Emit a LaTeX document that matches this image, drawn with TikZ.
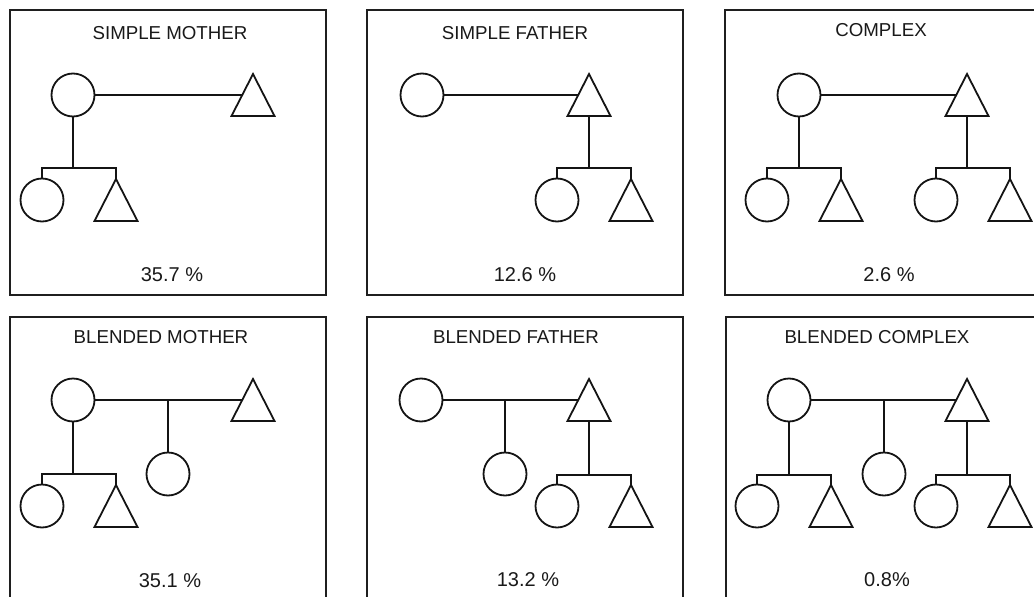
\documentclass[tikz,border=0pt]{standalone}
\usepackage{fontspec}
\setmainfont{Liberation Sans}
\usetikzlibrary{calc}
\tikzset{
  shp/.style={line width=1.8pt, draw=black!92},
  circ/.style={circle, draw=black!92, line width=1.8pt, minimum size=43pt, inner sep=0pt},
  panel/.style={draw=black!88, line width=2.8pt},
  ttl/.style={font=\fontsize{18.7}{22}\selectfont, text=black!90, inner sep=0pt},
  pct/.style={font=\fontsize{20}{24}\selectfont, text=black!90, inner sep=0pt},
}
\newcommand\tri[2]{%
  \coordinate (#1) at (#2);
  \draw[shp] (#1) -- ++(-21.5,42) -- ++(43,0) -- cycle;
  \coordinate (#1L) at ($(#1)+(-10.5,21)$);
  \coordinate (#1B) at ($(#1)+(0,42)$);
}
\begin{document}
\begin{tikzpicture}[x=1pt,y=-1pt]
\useasboundingbox (0,0) rectangle (1034,597);
\clip (0,0) rectangle (1034,597);
% ---------- Panel 1: SIMPLE MOTHER
\draw[panel] (10,10) rectangle (326,295);
\node[ttl] (t1) at (170,33) {SIMPLE MOTHER};
\node[circ] (m1) at (73,95) {};
\tri{f1}{253,74}
\draw[shp] (m1.east) -- (f1L);
\coordinate (b1) at (73,168);
\node[circ] (d1) at (42,200) {};
\tri{s1}{116,179}
\draw[shp] (m1.south) -- (m1.south |- b1);
\draw[shp] (d1.north) -- (d1.north |- b1) -- (s1 |- b1) -- (s1);
\node[pct] (p1) at (172,275) {35.7 \%};
% ---------- Panel 2: SIMPLE FATHER
\draw[panel] (367,10) rectangle (683,295);
\node[ttl] (t2) at (515,33) {SIMPLE FATHER};
\node[circ] (m2) at (422,95) {};
\tri{f2}{589,74}
\draw[shp] (m2.east) -- (f2L);
\coordinate (b2) at (589,168);
\node[circ] (d2) at (557,200) {};
\tri{s2}{631,179}
\draw[shp] (f2B) -- (f2B |- b2);
\draw[shp] (d2.north) -- (d2.north |- b2) -- (s2 |- b2) -- (s2);
\node[pct] (p2) at (525,275) {12.6 \%};
% ---------- Panel 3: COMPLEX
\draw[panel] (725,10) rectangle (1060,295);
\node[ttl] (t3) at (881,30) {COMPLEX};
\node[circ] (m3) at (799,95) {};
\tri{f3}{967,74}
\draw[shp] (m3.east) -- (f3L);
\coordinate (b3) at (799,168);
\node[circ] (d3a) at (767,200) {};
\tri{s3a}{841,179}
\node[circ] (d3b) at (936,200) {};
\tri{s3b}{1010,179}
\draw[shp] (m3.south) -- (m3.south |- b3);
\draw[shp] (d3a.north) -- (d3a.north |- b3) -- (s3a |- b3) -- (s3a);
\draw[shp] (f3B) -- (f3B |- b3);
\draw[shp] (d3b.north) -- (d3b.north |- b3) -- (s3b |- b3) -- (s3b);
\node[pct] (p3) at (889,275) {2.6 \%};
% ---------- Panel 4: BLENDED MOTHER
\draw[panel] (10,317) rectangle (326,640);
\node[ttl] (t4) at (161,337) {BLENDED MOTHER};
\node[circ] (m4) at (73,400) {};
\tri{f4}{253,379}
\draw[shp] (m4.east) -- (f4L);
\node[circ] (k4) at (168,474) {};
\draw[shp] (k4.north |- m4) -- (k4.north);
\coordinate (b4) at (73,474);
\node[circ] (d4) at (42,506) {};
\tri{s4}{116,485}
\draw[shp] (m4.south) -- (m4.south |- b4);
\draw[shp] (d4.north) -- (d4.north |- b4) -- (s4 |- b4) -- (s4);
\node[pct] (p4) at (170,581) {35.1 \%};
% ---------- Panel 5: BLENDED FATHER
\draw[panel] (367,317) rectangle (683,640);
\node[ttl] (t5) at (516,337) {BLENDED FATHER};
\node[circ] (m5) at (421,400) {};
\tri{f5}{589,379}
\draw[shp] (m5.east) -- (f5L);
\node[circ] (k5) at (505,474) {};
\draw[shp] (k5.north |- m5) -- (k5.north);
\coordinate (b5) at (589,475);
\node[circ] (d5) at (557,506) {};
\tri{s5}{631,485}
\draw[shp] (f5B) -- (f5B |- b5);
\draw[shp] (d5.north) -- (d5.north |- b5) -- (s5 |- b5) -- (s5);
\node[pct] (p5) at (528,580) {13.2 \%};
% ---------- Panel 6: BLENDED COMPLEX
\draw[panel] (726,317) rectangle (1060,640);
\node[ttl] (t6) at (877,337) {BLENDED COMPLEX};
\node[circ] (m6) at (789,400) {};
\tri{f6}{967,379}
\draw[shp] (m6.east) -- (f6L);
\node[circ] (k6) at (884,474) {};
\draw[shp] (k6.north |- m6) -- (k6.north);
\coordinate (b6) at (789,475);
\node[circ] (d6a) at (757,506) {};
\tri{s6a}{831,485}
\node[circ] (d6b) at (936,506) {};
\tri{s6b}{1010,485}
\draw[shp] (m6.south) -- (m6.south |- b6);
\draw[shp] (d6a.north) -- (d6a.north |- b6) -- (s6a |- b6) -- (s6a);
\draw[shp] (f6B) -- (f6B |- b6);
\draw[shp] (d6b.north) -- (d6b.north |- b6) -- (s6b |- b6) -- (s6b);
\node[pct] (p6) at (887,580) {0.8\%};
\end{tikzpicture}
\end{document}
